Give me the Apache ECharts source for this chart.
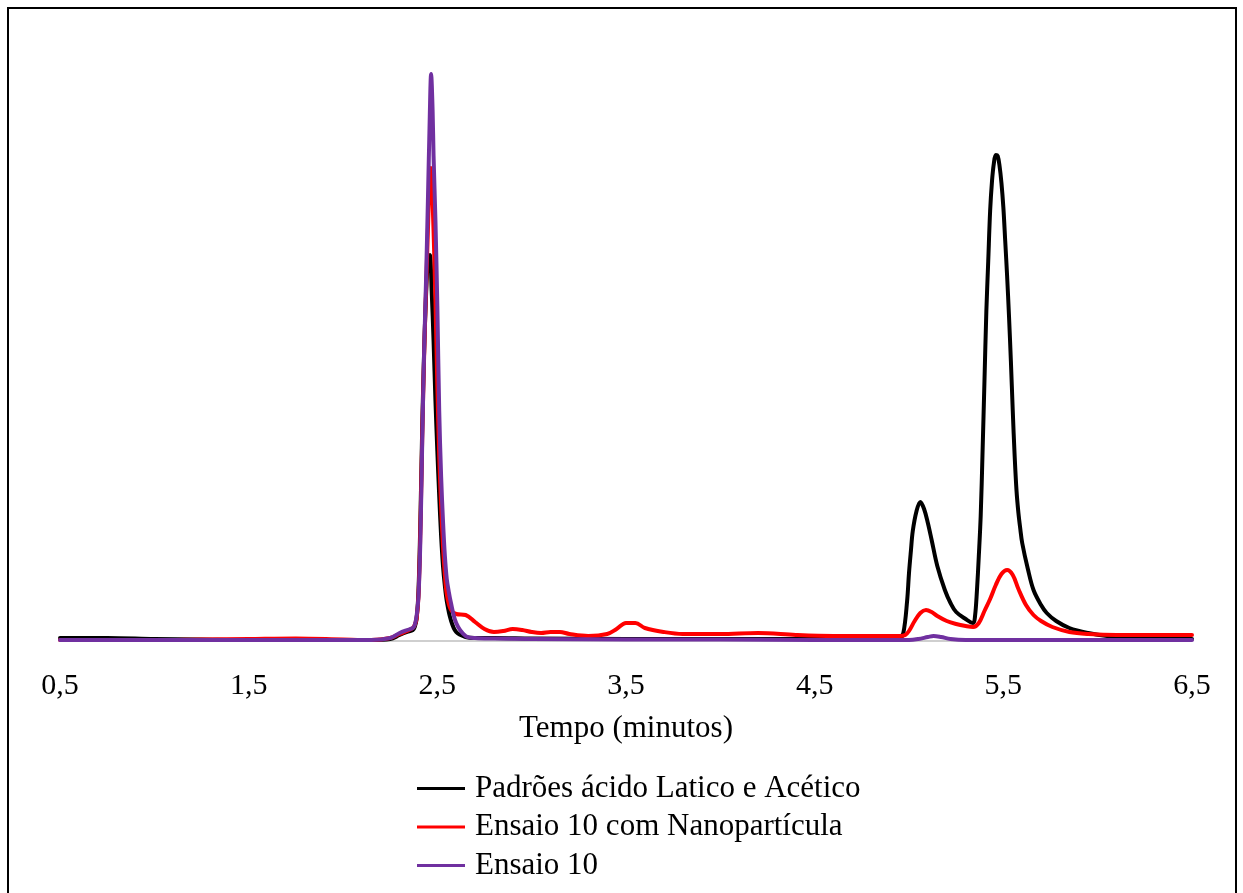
<!DOCTYPE html>
<html>
<head>
<meta charset="utf-8">
<script src="https://cdn.jsdelivr.net/npm/echarts@6/dist/echarts.min.js"></script>
<style>
html,body{margin:0;padding:0;background:#fff;}
#chart{width:1243px;height:893px;}
</style>
</head>
<body>
<div id="chart"></div>
<script>
// Tick labels of the time axis
const xTicks = [0.5, 1.5, 2.5, 3.5, 4.5, 5.5, 6.5];
const seriesNames = ['Padrões ácido Latico e Acético', 'Ensaio 10 com Nanopartícula', 'Ensaio 10'];

// [tempo (min), sinal] pairs
const padroes = [[0.5,3],[0.75,3],[1.0,2],[1.25,1.5],[1.5,1],[1.75,1],[2.0,1],[2.15,1],[2.25,2],[2.30,6],[2.34,9],[2.37,11],[2.38,14],[2.39,22],[2.40,50],[2.41,120],[2.42,215],[2.43,290],[2.44,345],[2.45,380],[2.46,386],[2.47,350],[2.48,300],[2.49,240],[2.50,190],[2.51,145],[2.52,105],[2.53,75],[2.54,55],[2.55,40],[2.57,22],[2.60,9],[2.65,4],[2.70,3],[2.80,3],[3.0,2.5],[3.5,2],[4.0,2],[4.5,2],[4.9,2],[4.95,3],[4.97,8],[4.99,40],[5.00,68],[5.01,90],[5.02,110],[5.04,130],[5.06,139],[5.08,132],[5.10,118],[5.12,101],[5.15,75],[5.19,51],[5.22,38],[5.25,29],[5.30,22],[5.34,18],[5.35,25],[5.36,50],[5.37,85],[5.38,125],[5.39,190],[5.40,260],[5.41,330],[5.42,380],[5.43,430],[5.44,460],[5.45,478],[5.46,486],[5.47,485],[5.48,475],[5.49,458],[5.50,434],[5.51,400],[5.52,365],[5.53,325],[5.54,280],[5.55,230],[5.56,185],[5.57,150],[5.58,128],[5.59,112],[5.60,98],[5.63,72],[5.66,51],[5.70,36],[5.73,28],[5.78,20],[5.85,13],[5.95,8],[6.05,5],[6.20,3],[6.35,2],[6.5,2]];

const ensaioNano = [[0.5,1],[0.75,1],[1.0,1],[1.25,1.5],[1.5,2],[1.75,2.5],[2.0,1.5],[2.15,1],[2.25,3],[2.30,7],[2.34,10],[2.37,13],[2.38,16],[2.39,22],[2.40,45],[2.41,110],[2.42,205],[2.43,285],[2.44,350],[2.45,410],[2.46,468],[2.465,473],[2.47,462],[2.48,410],[2.49,340],[2.50,255],[2.51,185],[2.52,135],[2.53,95],[2.54,66],[2.55,47],[2.57,32],[2.60,27],[2.65,26],[2.70,19],[2.75,12],[2.80,9],[2.85,10],[2.90,12],[2.95,11],[3.00,9],[3.05,8],[3.10,9],[3.15,9],[3.20,7],[3.30,5],[3.40,7],[3.45,12],[3.50,18],[3.55,18],[3.60,13],[3.70,9],[3.80,7],[4.00,7],[4.20,8],[4.40,6],[4.60,5],[4.80,5],[4.95,5],[4.98,6],[5.00,10],[5.03,20],[5.06,28],[5.09,31],[5.12,29],[5.15,25],[5.20,20],[5.25,17],[5.30,15],[5.34,14],[5.37,18],[5.40,30],[5.43,42],[5.46,56],[5.49,67],[5.52,71],[5.55,66],[5.58,52],[5.62,36],[5.66,26],[5.70,20],[5.76,14],[5.85,9],[5.95,7],[6.10,6],[6.30,6],[6.50,6]];

const ensaio = [[0.5,1],[1.0,1],[1.5,1],[2.0,1],[2.15,1],[2.25,3],[2.30,8],[2.34,11],[2.37,13],[2.38,16],[2.39,25],[2.40,44],[2.41,100],[2.42,200],[2.43,290],[2.44,360],[2.45,440],[2.46,525],[2.467,567],[2.475,530],[2.48,485],[2.49,420],[2.50,335],[2.51,230],[2.52,165],[2.53,120],[2.54,85],[2.55,62],[2.56,50],[2.57,40],[2.60,18],[2.65,5],[2.70,3],[2.80,2.5],[3.0,2],[3.5,1.5],[4.0,1.5],[4.5,1],[4.9,1],[5.0,1],[5.05,2],[5.10,4],[5.13,5],[5.17,4],[5.22,2],[5.30,1],[6.0,1],[6.5,1]];

const colors = ['#000000', '#ff0000', '#7030a0'];
const seriesData = [padroes, ensaioNano, ensaio];
const FONT = "'Liberation Serif', 'Times New Roman', serif";

const chart = echarts.init(document.getElementById('chart'), null, {renderer: 'canvas'});
chart.setOption({
  animation: false,
  backgroundColor: '#ffffff',
  grid: {left: 60, right: 51, top: 41, bottom: 252, containLabel: false},
  xAxis: {
    type: 'value', min: 0.5, max: 6.5, interval: 1,
    name: 'Tempo (minutos)', nameLocation: 'middle', nameGap: 72,
    nameTextStyle: {fontFamily: FONT, fontSize: 31, color: '#000'},
    axisLine: {show: true, onZero: true, lineStyle: {color: '#c0c0c0', width: 1.5}},
    axisTick: {show: false},
    splitLine: {show: false},
    axisLabel: {
      margin: 30, fontFamily: FONT, fontSize: 30, color: '#000',
      formatter: v => (xTicks.some(t => Math.abs(t - v) < 1e-9) ? v.toFixed(1).replace('.', ',') : '')
    }
  },
  yAxis: {
    type: 'value', min: 0, max: 600, show: false
  },
  legend: {
    orient: 'vertical', left: 412, top: 768, itemGap: 7.5,
    itemWidth: 48, itemHeight: 3, icon: 'rect',
    textStyle: {fontFamily: FONT, fontSize: 31, color: '#000', padding: [0, 0, 0, 5]},
    data: seriesNames
  },
  graphic: [{
    type: 'rect', shape: {x: 8, y: 8, width: 1228, height: 900},
    style: {fill: 'none', stroke: '#000', lineWidth: 2}, silent: true
  }],
  series: seriesData.map((d, i) => ({
    name: seriesNames[i], type: 'line', data: d,
    showSymbol: false, symbol: 'none',
    smooth: 0.35,
    lineStyle: {color: colors[i], width: 4, cap: 'round', join: 'round'},
    itemStyle: {color: colors[i]},
    z: 2 + i
  }))
});
</script>
</body>
</html>
